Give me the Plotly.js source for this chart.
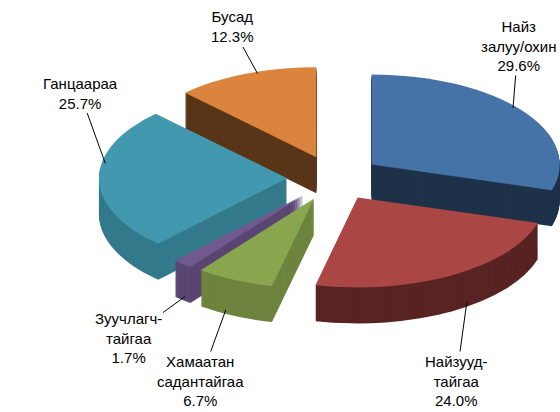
<!DOCTYPE html>
<html><head><meta charset="utf-8">
<script src="https://cdn.plot.ly/plotly-3.0.1.min.js"></script>
<style>html,body{margin:0;padding:0;background:#fff}#chart{width:560px;height:412px}</style>
</head><body><div id="chart"></div>
<script>
const categories = ["Найз<br>залуу/охин", "Найзууд-<br>тайгаа", "Хамаатан<br>садантайгаа", "Зуучлагч-<br>тайгаа", "Ганцаараа", "Бусад"];
const shares = [29.6, 24.0, 6.7, 1.7, 25.7, 12.3];
const colors = ["#4572A7", "#AA4643", "#89A54E", "#71588F", "#4198AF", "#DB843D"];
const sideShade = [0.44, 0.52, 0.8, 0.8, 0.8, 0.41];

// label placement (pixels) – layout only
const labelPos = [[518, 46], [456, 381], [200, 381], [128, 338], [80, 93], [232, 27]];
const headFrac = [0.47, 0.43, 0.65, 0.5, 0.61, 0.58];
const headOnBase = [0, 1, 1, 1, 0, 0];

const W = 560, H = 412;
const cx = 334, cy = 178, R = 150, pull = 0.25;
const sx = 1.567, sy = 0.75;   // tilt of the pie (ellipse)
const depth = 36;              // thickness of the pie in px
const dom = {x: [(cx - R) / W, (cx + R) / W], y: [(H - cy - R) / H, (H - cy + R) / H]};

function darken(hex, f) {
  const n = parseInt(hex.slice(1), 16);
  const c = [(n >> 16) & 255, (n >> 8) & 255, n & 255].map(v => Math.round(v * f));
  return "rgb(" + c.join(",") + ")";
}
const sideColors = colors.map((c, i) => darken(c, sideShade[i]));

const total = shares.reduce((a, b) => a + b, 0);
const r = R / (1 + pull);
let cum = 0;
const annotations = shares.map((v, i) => {
  const a0 = cum / total * 2 * Math.PI;
  cum += v;
  const a1 = cum / total * 2 * Math.PI;
  const a = a0 + (a1 - a0) * headFrac[i];
  const am = (a0 + a1) / 2;
  const dx = pull * r * Math.sin(am) + r * 0.98 * Math.sin(a);
  const dy = -pull * r * Math.cos(am) - r * 0.98 * Math.cos(a);
  const hx = cx + sx * dx, hy = cy + sy * dy + headOnBase[i] * (depth - 2);
  const [lx, ly] = labelPos[i];
  return {
    x: hx / W, y: 1 - hy / H, xref: "paper", yref: "paper",
    ax: lx - hx, ay: ly - hy,
    text: categories[i] + "<br>" + v.toFixed(1) + "%",
    showarrow: true, arrowhead: 0, arrowwidth: 1, arrowcolor: "#000000",
    standoff: 0, startstandoff: 0,
    font: {family: "Liberation Sans, Arial, sans-serif", size: 15, color: "#000000"},
    align: "center"
  };
});

const traces = [];
for (let j = 0; j <= depth; j++) {
  traces.push({
    type: "pie",
    labels: categories,
    values: shares,
    sort: false,
    direction: "clockwise",
    rotation: 0,
    pull: shares.map(() => pull),
    marker: {colors: j === depth ? colors : sideColors, line: {width: 0}},
    textinfo: "none",
    hoverinfo: "skip",
    automargin: false,
    showlegend: false,
    domain: dom
  });
}

const layout = {
  width: W, height: H,
  margin: {l: 0, r: 0, t: 0, b: 0},
  showlegend: false,
  paper_bgcolor: "#ffffff",
  font: {family: "Liberation Sans, Arial, sans-serif", size: 15, color: "#000"},
  annotations: annotations
};

Plotly.newPlot("chart", traces, layout, {displayModeBar: false, staticPlot: true}).then(() => {
  document.querySelectorAll(".pielayer g.trace").forEach((g, j) => {
    const shift = depth - j;
    g.setAttribute("transform",
      `translate(0,${shift}) translate(${cx},${cy}) scale(${sx},${sy}) translate(${-cx},${-cy})`);
  });
});
</script></body></html>
